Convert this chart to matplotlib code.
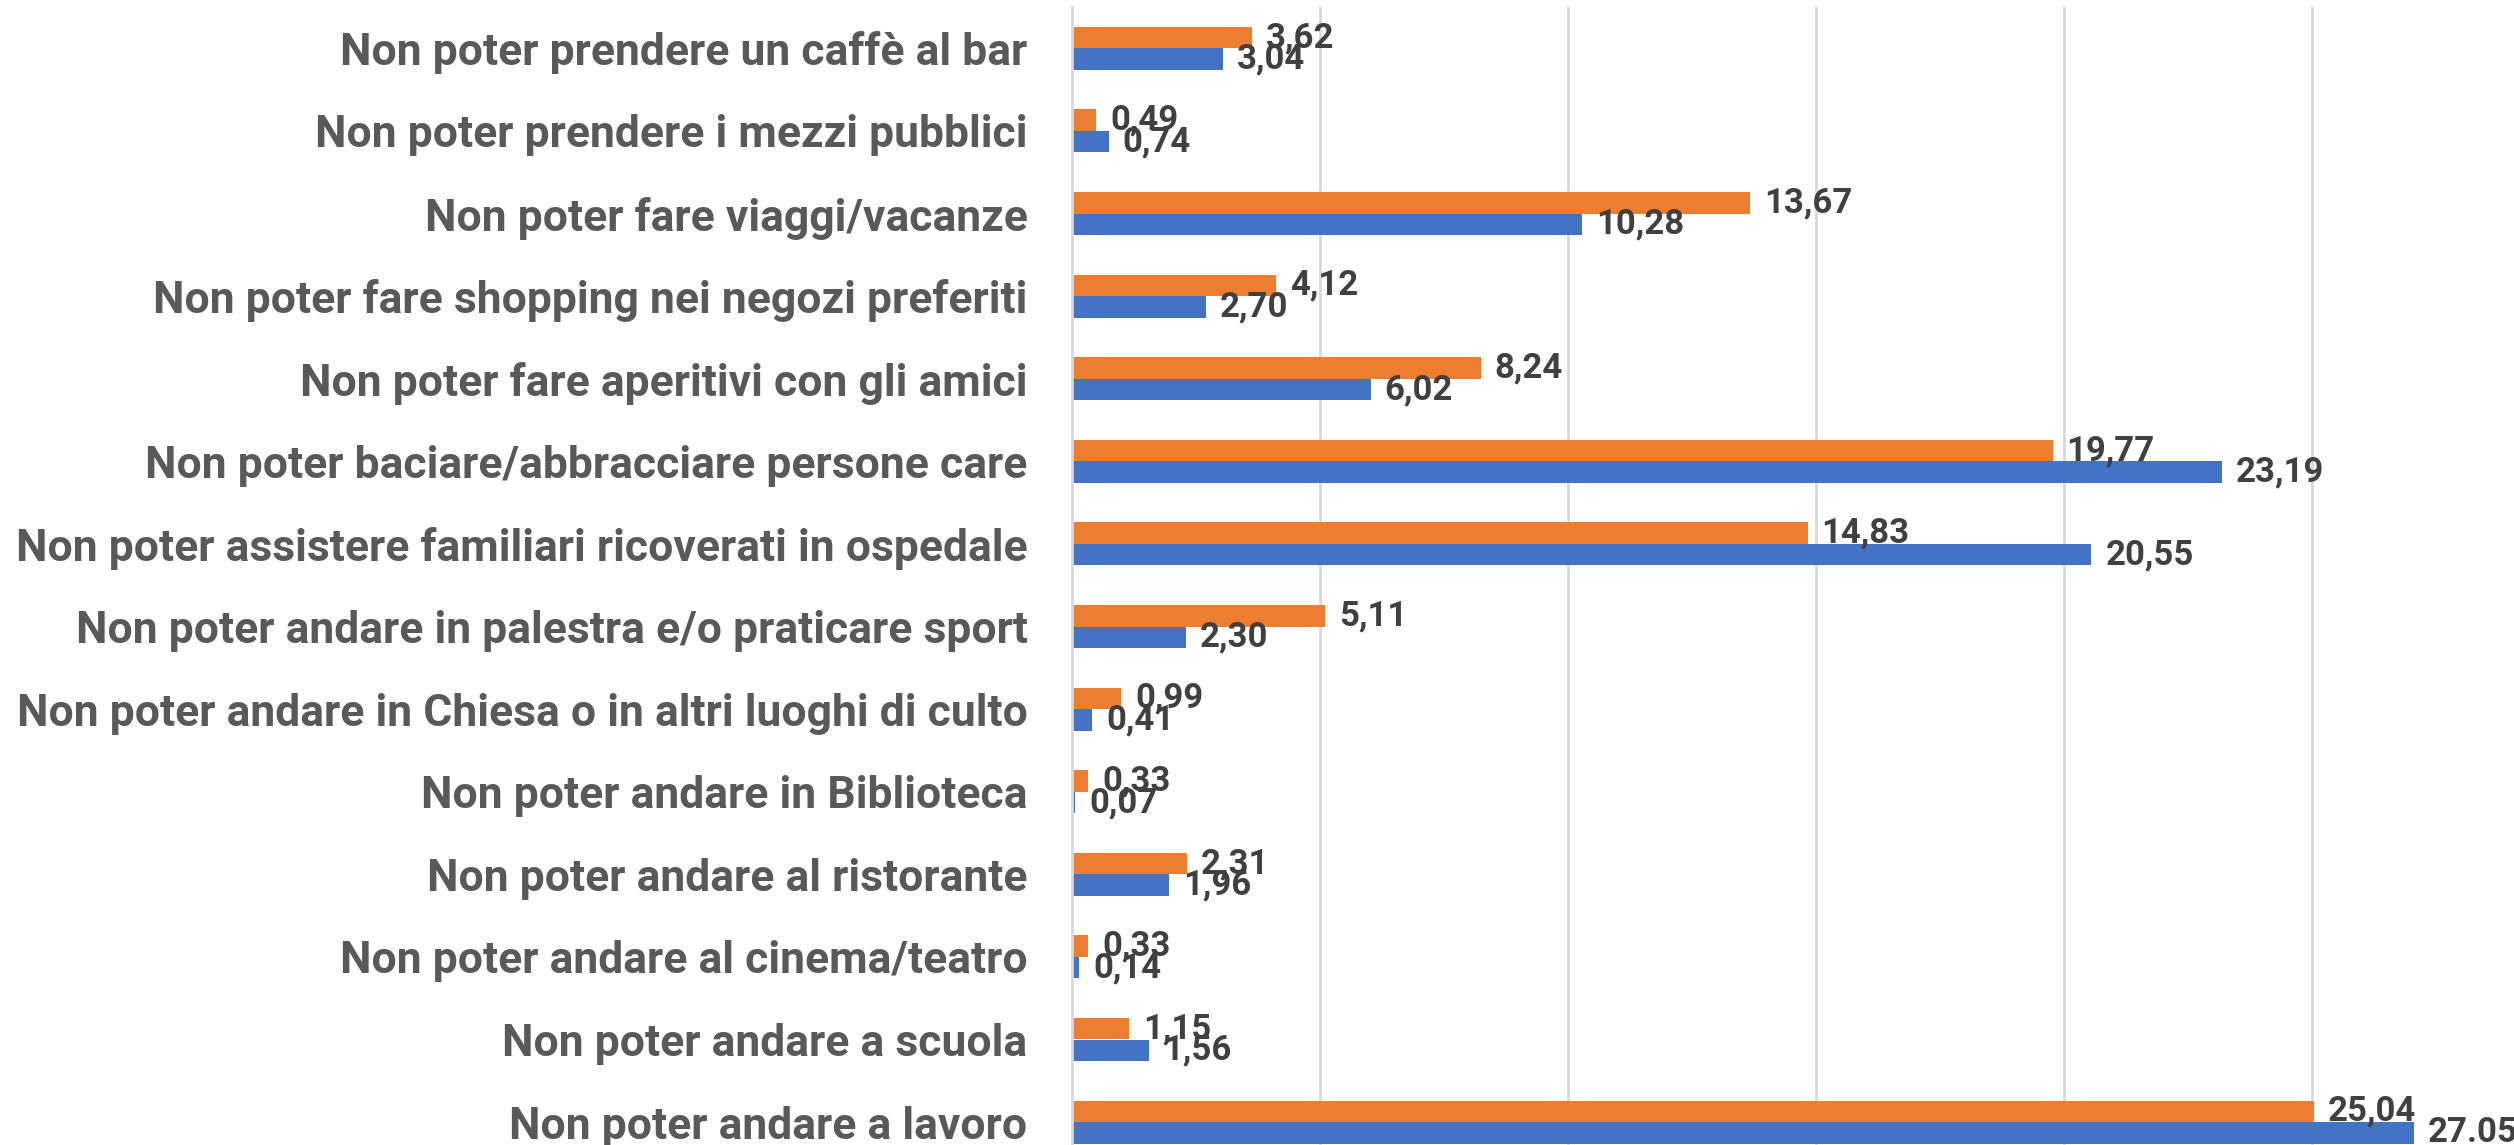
import numpy as np
import matplotlib
matplotlib.use('Agg')
import matplotlib.pyplot as plt

# categories, top to bottom as drawn
categories = [
    'Non poter prendere un caffè al bar',
    'Non poter prendere i mezzi pubblici',
    'Non poter fare viaggi/vacanze',
    'Non poter fare shopping nei negozi preferiti',
    'Non poter fare aperitivi con gli amici',
    'Non poter baciare/abbracciare persone care',
    'Non poter assistere familiari ricoverati in ospedale',
    'Non poter andare in palestra e/o praticare sport',
    'Non poter andare in Chiesa o in altri luoghi di culto',
    'Non poter andare in Biblioteca',
    'Non poter andare al ristorante',
    'Non poter andare al cinema/teatro',
    'Non poter andare a scuola',
    'Non poter andare a lavoro',
]
orange_vals = [3.62, 0.49, 13.67, 4.12, 8.24, 19.77, 14.83, 5.11, 0.99, 0.33, 2.31, 0.33, 1.15, 25.04]
blue_vals = [3.04, 0.74, 10.28, 2.70, 6.02, 23.19, 20.55, 2.30, 0.41, 0.07, 1.96, 0.14, 1.56, 27.05]
orange_text = ['3,62', '0,49', '13,67', '4,12', '8,24', '19,77', '14,83', '5,11', '0,99', '0,33', '2,31', '0,33', '1,15', '25,04']
blue_text = ['3,04', '0,74', '10,28', '2,70', '6,02', '23,19', '20,55', '2,30', '0,41', '0,07', '1,96', '0,14', '1,56', '27.05']

ORANGE = '#ED7D31'
BLUE = '#4472C4'
GRID = '#D9D9D9'

plt.rcParams['font.family'] = ['Roboto', 'DejaVu Sans']

W, H = 2514, 1145
fig = plt.figure(figsize=(W / 100, H / 100), dpi=100)
# plot area: left at x=1072 px, top at y=7 px, 82.6 px per category, 49.6 px per unit
left = 1072 / W
top = 7 / H
ncat = len(categories)
h = ncat * 82.6 / H
wdt = 30 * 49.6 / W
ax = fig.add_axes([left, 1 - top - h, wdt, h])

y = np.arange(ncat)
bh = 0.26
ax.barh(y - bh / 2, orange_vals, height=bh, color=ORANGE, zorder=2)
ax.barh(y + bh / 2, blue_vals, height=bh, color=BLUE, zorder=2)

ax.set_xlim(0, 30)
ax.set_ylim(ncat - 0.5, -0.5)
ax.set_xticks([5, 10, 15, 20, 25])
ax.xaxis.grid(True, color=GRID, linewidth=2, zorder=0)
ax.tick_params(axis='x', length=0, labelbottom=False)
ax.tick_params(axis='y', length=0, pad=32)
ax.set_yticks(y)
ax.set_yticklabels(categories, fontsize=32, fontweight='bold', color='#595959')
for s in ['top', 'right', 'bottom']:
    ax.spines[s].set_visible(False)
ax.spines['left'].set_color(GRID)
ax.spines['left'].set_linewidth(2)

for i in range(ncat):
    ax.annotate(orange_text[i], (orange_vals[i], y[i] - bh / 2), xytext=(14, 0),
                textcoords='offset pixels', va='center', ha='left',
                fontsize=25, fontweight='bold', color='#404040', zorder=3)
    ax.annotate(blue_text[i], (blue_vals[i], y[i] + bh / 2), xytext=(14, 0),
                textcoords='offset pixels', va='center', ha='left',
                fontsize=25, fontweight='bold', color='#404040', zorder=3)

fig.savefig('out.png', dpi=100)
